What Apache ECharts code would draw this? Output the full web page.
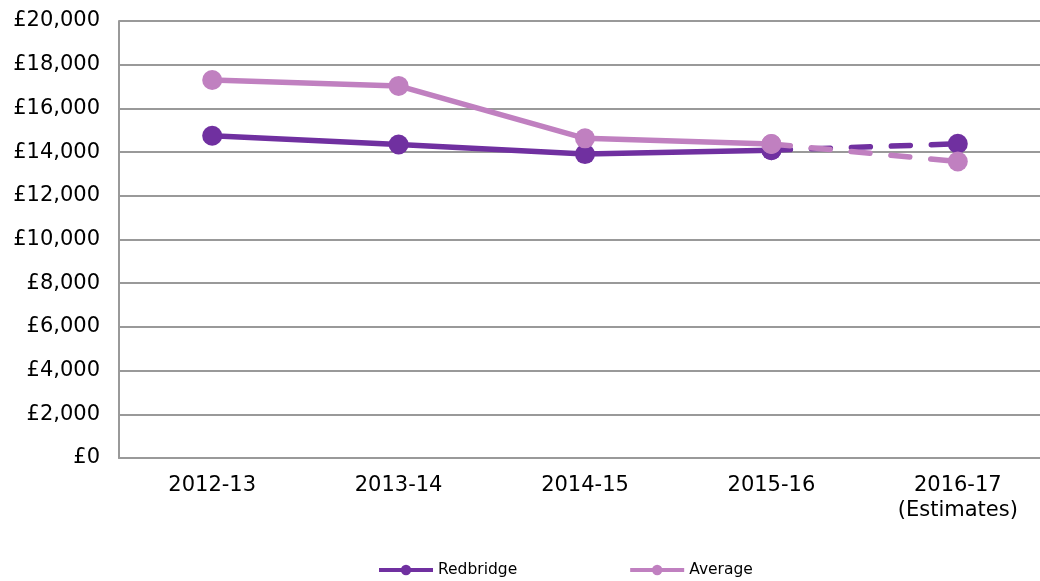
<!DOCTYPE html>
<html>
<head>
<meta charset="utf-8">
<script src="https://cdn.jsdelivr.net/npm/echarts@6/dist/echarts.min.js"></script>
<style>
html,body{margin:0;padding:0;background:#fff;}
#chart{width:1040px;height:581px;}
</style>
</head>
<body>
<div id="chart"></div>
<script>
const categories = ['2012-13', '2013-14', '2014-15', '2015-16', '2016-17\n(Estimates)'];
const redbridge = [14750, 14350, 13910, 14090, 14380];
const average = [17300, 17030, 14630, 14370, 13570];
const yTicks = [0, 2000, 4000, 6000, 8000, 10000, 12000, 14000, 16000, 18000, 20000];
const estimateStart = 3; // index where estimates (dashed) begin

const RED_COLOR = '#7030A0';
const AVG_COLOR = '#C080C0';
const FONT = 'DejaVu Sans';

function solidPart(arr) {
  return arr.map((v, i) => i <= estimateStart ? v : '-');
}
function dashedPart(arr) {
  return arr.map((v, i) => i >= estimateStart ? v : '-');
}
function fmt(v) {
  return '£' + String(v).replace(/\B(?=(\d{3})+(?!\d))/g, ',');
}

const chart = echarts.init(document.getElementById('chart'), null, {renderer: 'canvas'});

function lineSeries(name, data, color, dashed) {
  return {
    name: name,
    type: 'line',
    data: data,
    symbol: 'circle',
    symbolSize: 20,
    showSymbol: true,
    connectNulls: false,
    itemStyle: {color: color},
    lineStyle: dashed
      ? {color: color, width: 5.5, type: [19, 21], cap: 'round'}
      : {color: color, width: 5.5},
    emphasis: {disabled: true},
    animation: false
  };
}

chart.setOption({
  animation: false,
  backgroundColor: '#fff',
  textStyle: {fontFamily: FONT},
  grid: {left: 119, width: 932, top: 21, bottom: 123, containLabel: false, outerBoundsMode: 'none'},
  legend: {
    data: ['Redbridge', 'Average'],
    bottom: -2,
    left: 372,
    itemWidth: 54,
    itemHeight: 13,
    itemGap: 111,
    lineStyle: {width: 4},
    textStyle: {fontFamily: FONT, fontSize: 15.5, color: '#000'},
    selectedMode: false
  },
  xAxis: {
    type: 'category',
    data: categories,
    boundaryGap: true,
    axisLine: {show: true, lineStyle: {color: '#999', width: 2}},
    axisTick: {show: false},
    axisLabel: {fontFamily: FONT, fontSize: 21, color: '#000', margin: 15, lineHeight: 25, interval: 0}
  },
  yAxis: {
    type: 'value',
    min: 0,
    max: 20000,
    interval: 2000,
    axisLine: {show: true, lineStyle: {color: '#999', width: 2}},
    axisTick: {show: false},
    splitLine: {show: true, lineStyle: {color: '#999', width: 2}},
    axisLabel: {fontFamily: FONT, fontSize: 21, color: '#000', margin: 19,
      formatter: function (v) { return yTicks.indexOf(v) >= 0 ? fmt(v) : ''; }}
  },
  series: [
    lineSeries('Redbridge', solidPart(redbridge), RED_COLOR, false),
    lineSeries('Redbridge estimate', dashedPart(redbridge), RED_COLOR, true),
    lineSeries('Average', solidPart(average), AVG_COLOR, false),
    lineSeries('Average estimate', dashedPart(average), AVG_COLOR, true)
  ]
});
</script>
</body>
</html>
